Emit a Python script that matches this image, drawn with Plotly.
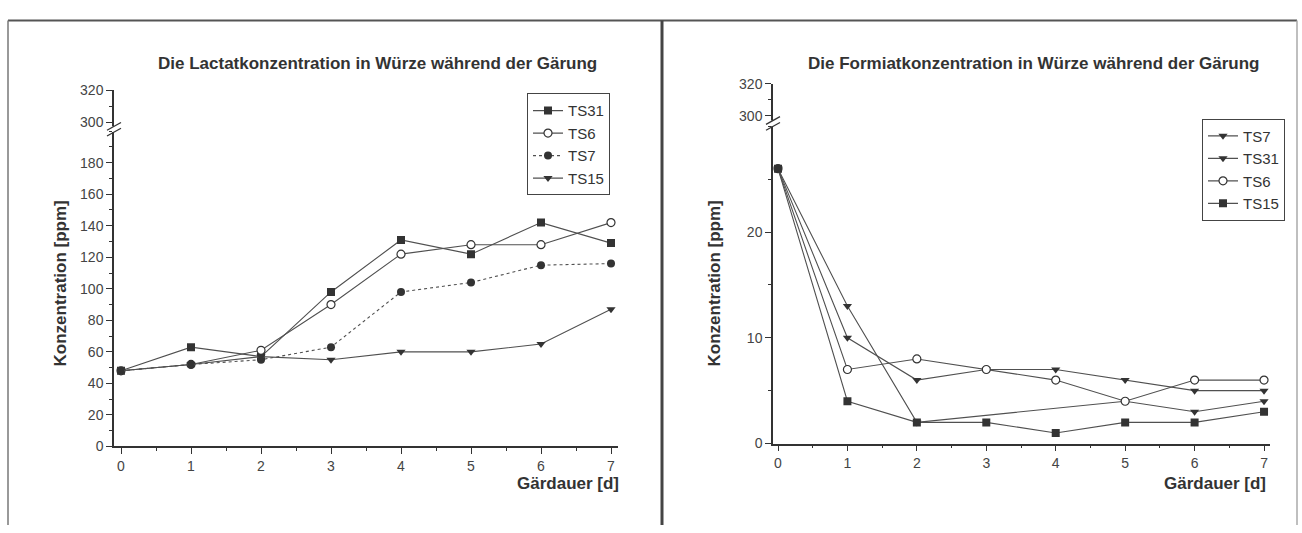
import plotly.graph_objects as go

W, H = 1302, 533

# ---------------- data ----------------
days = [0, 1, 2, 3, 4, 5, 6, 7]

# Lactate (left)
lac_TS31 = [48, 63, 57, 98, 131, 122, 142, 129]
lac_TS6 = [48, 52, 61, 90, 122, 128, 128, 142]
lac_TS7 = [48, 52, 55, 63, 98, 104, 115, 116]
lac_TS15 = [48, 52, 57, 55, 60, 60, 65, 87]

# Formiate (right)
for_TS7 = [26, 10, 6, 7, 7, 6, 5, 5]
for_TS31 = [26, 13, 2, None, None, 4, 3, 4]
for_TS6 = [26, 7, 8, 7, 6, 4, 6, 6]
for_TS15 = [26, 4, 2, 2, 1, 2, 2, 3]

title_left = "Die Lactatkonzentration in Würze während der Gärung"
title_right = "Die Formiatkonzentration in Würze während der Gärung"
ytitle = "Konzentration [ppm]"
xtitle = "Gärdauer [d]"

FONT = "Liberation Sans, Arial, sans-serif"
LINE = "#505050"
MK = "#333333"
AX = "#333333"


def px(x):
    return x / W


def py(y):
    return 1 - y / H


fig = go.Figure()


def add(x, y, name, symbol, xa, ya, leg, dash="solid", open_=False):
    fig.add_trace(go.Scatter(
        x=x, y=y, name=name, mode="lines+markers",
        xaxis=xa, yaxis=ya, legend=leg, connectgaps=True,
        line=dict(color=LINE, width=1.1, dash=dash),
        marker=dict(symbol=symbol, size=8,
                    color="white" if open_ else MK,
                    line=dict(color=MK, width=1.2 if open_ else 0)),
    ))


add(days, lac_TS31, "TS31", "square", "x", "y", "legend")
add(days, lac_TS6, "TS6", "circle", "x", "y", "legend", open_=True)
add(days, lac_TS7, "TS7", "circle", "x", "y", "legend", dash="dot")
add(days, lac_TS15, "TS15", "triangle-down", "x", "y", "legend")

add(days, for_TS7, "TS7", "triangle-down", "x2", "y2", "legend2")
add(days, for_TS31, "TS31", "triangle-down", "x2", "y2", "legend2")
add(days, for_TS6, "TS6", "circle", "x2", "y2", "legend2", open_=True)
add(days, for_TS15, "TS15", "square", "x2", "y2", "legend2")

tickfont = dict(family=FONT, size=14, color="#444")

xcommon = dict(showline=True, linecolor=AX, linewidth=1.5, ticks="outside",
               ticklen=6, tickwidth=1.2, tickcolor=AX, showgrid=False,
               zeroline=False, tickmode="array", tickvals=days,
               tickfont=tickfont,
               minor=dict(tickmode="linear", tick0=0, dtick=0.5, ticklen=3,
                          tickcolor=AX, ticks="outside", showgrid=False))

ycommon = dict(showline=True, linecolor=AX, linewidth=1.5, ticks="outside",
               ticklen=6, tickwidth=1.2, tickcolor=AX, showgrid=False,
               zeroline=False, tickfont=tickfont, tickmode="array")

fig.update_layout(
    width=W, height=H, margin=dict(l=0, r=0, t=0, b=0),
    paper_bgcolor="white", plot_bgcolor="rgba(0,0,0,0)",
    font=dict(family=FONT, color="#333"),
    xaxis=dict(xcommon, domain=[px(114), px(618)], range=[-0.1, 7.1], anchor="y"),
    yaxis=dict(ycommon, domain=[py(452), py(127)], range=[0, 200], anchor="x",
               tickvals=[0, 20, 40, 60, 80, 100, 120, 140, 160, 180],
               minor=dict(tickmode="linear", tick0=0, dtick=10, ticklen=3,
                          tickcolor=AX, ticks="outside", showgrid=False)),
    yaxis3=dict(ycommon, domain=[py(123), py(85)], range=[297, 320], anchor="x",
                tickvals=[300, 320],
                minor=dict(tickmode="linear", tick0=300, dtick=10, ticklen=3,
                           tickcolor=AX, ticks="outside", showgrid=False)),
    xaxis2=dict(xcommon, domain=[px(773), px(1270)], range=[-0.072, 7.086], anchor="y2"),
    yaxis2=dict(ycommon, domain=[py(449), py(122)], range=[0, 30], anchor="x2",
                tickvals=[0, 10, 20],
                minor=dict(tickmode="linear", tick0=0, dtick=5, ticklen=3,
                           tickcolor=AX, ticks="outside", showgrid=False)),
    yaxis4=dict(ycommon, domain=[py(116), py(78)], range=[297, 320], anchor="x2",
                tickvals=[300, 320],
                minor=dict(tickmode="linear", tick0=300, dtick=10, ticklen=3,
                           tickcolor=AX, ticks="outside", showgrid=False)),
    legend=dict(x=px(610), y=py(88), xanchor="right", yanchor="top",
                bordercolor="#444", borderwidth=1, bgcolor="white",
                font=dict(family=FONT, size=15, color="#333"),
                tracegroupgap=0, itemwidth=30),
    legend2=dict(x=px(1285), y=py(114), xanchor="right", yanchor="top",
                 bordercolor="#444", borderwidth=1, bgcolor="white",
                 font=dict(family=FONT, size=15, color="#333"),
                 tracegroupgap=0, itemwidth=30),
    showlegend=True,
)

# invisible anchors so the upper axis segments render
fig.add_trace(go.Scatter(x=[None], y=[None], xaxis="x", yaxis="y3", showlegend=False, hoverinfo="skip"))
fig.add_trace(go.Scatter(x=[None], y=[None], xaxis="x2", yaxis="y4", showlegend=False, hoverinfo="skip"))

ann = []
ann.append(dict(text=title_left, x=px(377), y=py(57), xref="paper", yref="paper",
                showarrow=False, font=dict(family=FONT, size=17, color="#333"),
                xanchor="center", yanchor="middle"))
ann.append(dict(text=title_right, x=px(1034), y=py(57), xref="paper", yref="paper",
                showarrow=False, font=dict(family=FONT, size=17, color="#333"),
                xanchor="center", yanchor="middle"))
for xx in (60, 714):
    ann.append(dict(text=ytitle, x=px(xx), y=py(284), xref="paper", yref="paper",
                    showarrow=False, textangle=-90,
                    font=dict(family=FONT, size=17, color="#333"),
                    xanchor="center", yanchor="middle"))
for xx in (621, 1268):
    ann.append(dict(text=xtitle, x=px(xx), y=py(490), xref="paper", yref="paper",
                    showarrow=False, font=dict(family=FONT, size=17, color="#333"),
                    xanchor="right", yanchor="middle"))
# bold titles
for a in ann:
    a["text"] = "<b>" + a["text"] + "</b>"
fig.update_layout(annotations=ann)

shapes = []
# panel frames
shapes.append(dict(type="line", xref="paper", yref="paper", x0=px(8), x1=px(1297),
                   y0=py(13), y1=py(13), line=dict(color="#555", width=2)))
shapes.append(dict(type="line", xref="paper", yref="paper", x0=px(8), x1=px(8),
                   y0=py(13), y1=0, line=dict(color="#777", width=1.5)))
shapes.append(dict(type="line", xref="paper", yref="paper", x0=px(662), x1=px(662),
                   y0=py(13), y1=0, line=dict(color="#444", width=3)))
shapes.append(dict(type="line", xref="paper", yref="paper", x0=px(1297), x1=px(1297),
                   y0=py(13), y1=0, line=dict(color="#aaa", width=1.5)))
# axis breaks
for ax_x, by in ((114, 125), (773, 119)):
    shapes.append(dict(type="rect", xref="paper", yref="paper",
                       x0=px(ax_x - 2), x1=px(ax_x + 2), y0=py(by + 3), y1=py(by - 3),
                       fillcolor="white", line=dict(width=0)))
    for off in (-3, 3):
        shapes.append(dict(type="line", xref="paper", yref="paper",
                           x0=px(ax_x - 7), x1=px(ax_x + 7),
                           y0=py(by + off + 4), y1=py(by + off - 4),
                           line=dict(color=AX, width=1.3)))
fig.update_layout(shapes=shapes)

fig.write_html("out.html")
